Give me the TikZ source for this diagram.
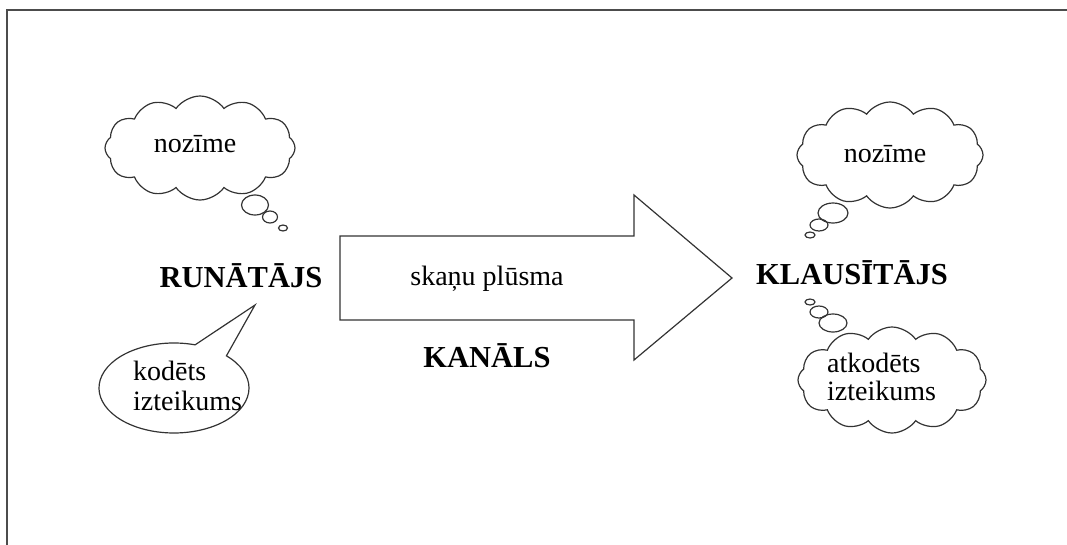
\documentclass[tikz,border=0pt]{standalone}
\usepackage{fontspec}
\setmainfont{Liberation Serif}
\usetikzlibrary{shapes.symbols,shapes.callouts,shapes.geometric,positioning}

\begin{document}
\begin{tikzpicture}[x=1pt,y=-1pt]
  \tikzset{
    frame/.style={draw=black!70,line width=2.6pt},
    thought/.style={cloud,cloud puffs=12,cloud puff arc=110,draw=black!80,line width=1.2pt,inner sep=0pt},
    puff/.style={ellipse,draw=black!80,line width=1.2pt,inner sep=0pt},
    speech/.style={ellipse callout,draw=black!80,line width=1.2pt,callout pointer arc=28,inner sep=0pt},
    flow/.style={draw=black!80,line width=1.2pt,line join=miter},
    party/.style={font=\fontsize{30.5}{32}\selectfont\bfseries,anchor=base,inner sep=0pt},
    word/.style={font=\fontsize{28}{30}\selectfont,anchor=base,inner sep=0pt},
    line/.style={word,anchor=base west},
  }
  \useasboundingbox (0,0) rectangle (1067,544);
  \draw[frame] (7,560) -- (7,10) -- (1080,10);

  % speaker side
  \node[thought,minimum width=190pt,minimum height=104pt] (cloudL) at (200,148) {};
  \node[puff,minimum width=27pt,minimum height=20pt] (pL1) at (255,205) {};
  \node[puff,minimum width=15pt,minimum height=12pt] (pL2) at (270,217) {};
  \node[puff,minimum width=9pt,minimum height=6pt]   (pL3) at (283,228) {};
  \node[word] (meanL) at (195,152) {nozīme};
  \node[party] (speaker) at (241,287) {RUNĀTĀJS};
  \node[speech,minimum width=150pt,minimum height=90pt,
        callout absolute pointer={(255,305)}] (bubble) at (174,388) {};
  \node[line] (codeA) at (133,380) {kodēts};
  \node[line] (codeB) at (133,410) {izteikums};

  % channel
  \draw[flow] (340,236) -- (634,236) -- (634,195) -- (732,278)
    -- (634,360) -- (634,320) -- (340,320) -- cycle;
  \node[word] (stream) at (487,285) {skaņu plūsma};
  \node[party] (channel) at (487,367) {KANĀLS};

  % listener side
  \node[thought,minimum width=186pt,minimum height=106pt] (cloudR) at (890,155) {};
  \node[puff,minimum width=30pt,minimum height=20pt] (pR1) at (833,213) {};
  \node[puff,minimum width=18pt,minimum height=12pt] (pR2) at (819,225) {};
  \node[puff,minimum width=10pt,minimum height=6pt]  (pR3) at (810,235) {};
  \node[word] (meanR) at (885,162) {nozīme};
  \node[party] (listener) at (852,284) {KLAUSĪTĀJS};
  \node[puff,minimum width=10pt,minimum height=6pt]  (pD3) at (810,302) {};
  \node[puff,minimum width=18pt,minimum height=12pt] (pD2) at (819,312) {};
  \node[puff,minimum width=28pt,minimum height=18pt] (pD1) at (833,323) {};
  \node[thought,minimum width=188pt,minimum height=106pt] (cloudD) at (892,380) {};
  \node[line] (decA) at (827,372) {atkodēts};
  \node[line] (decB) at (827,400) {izteikums};
\end{tikzpicture}
\end{document}
